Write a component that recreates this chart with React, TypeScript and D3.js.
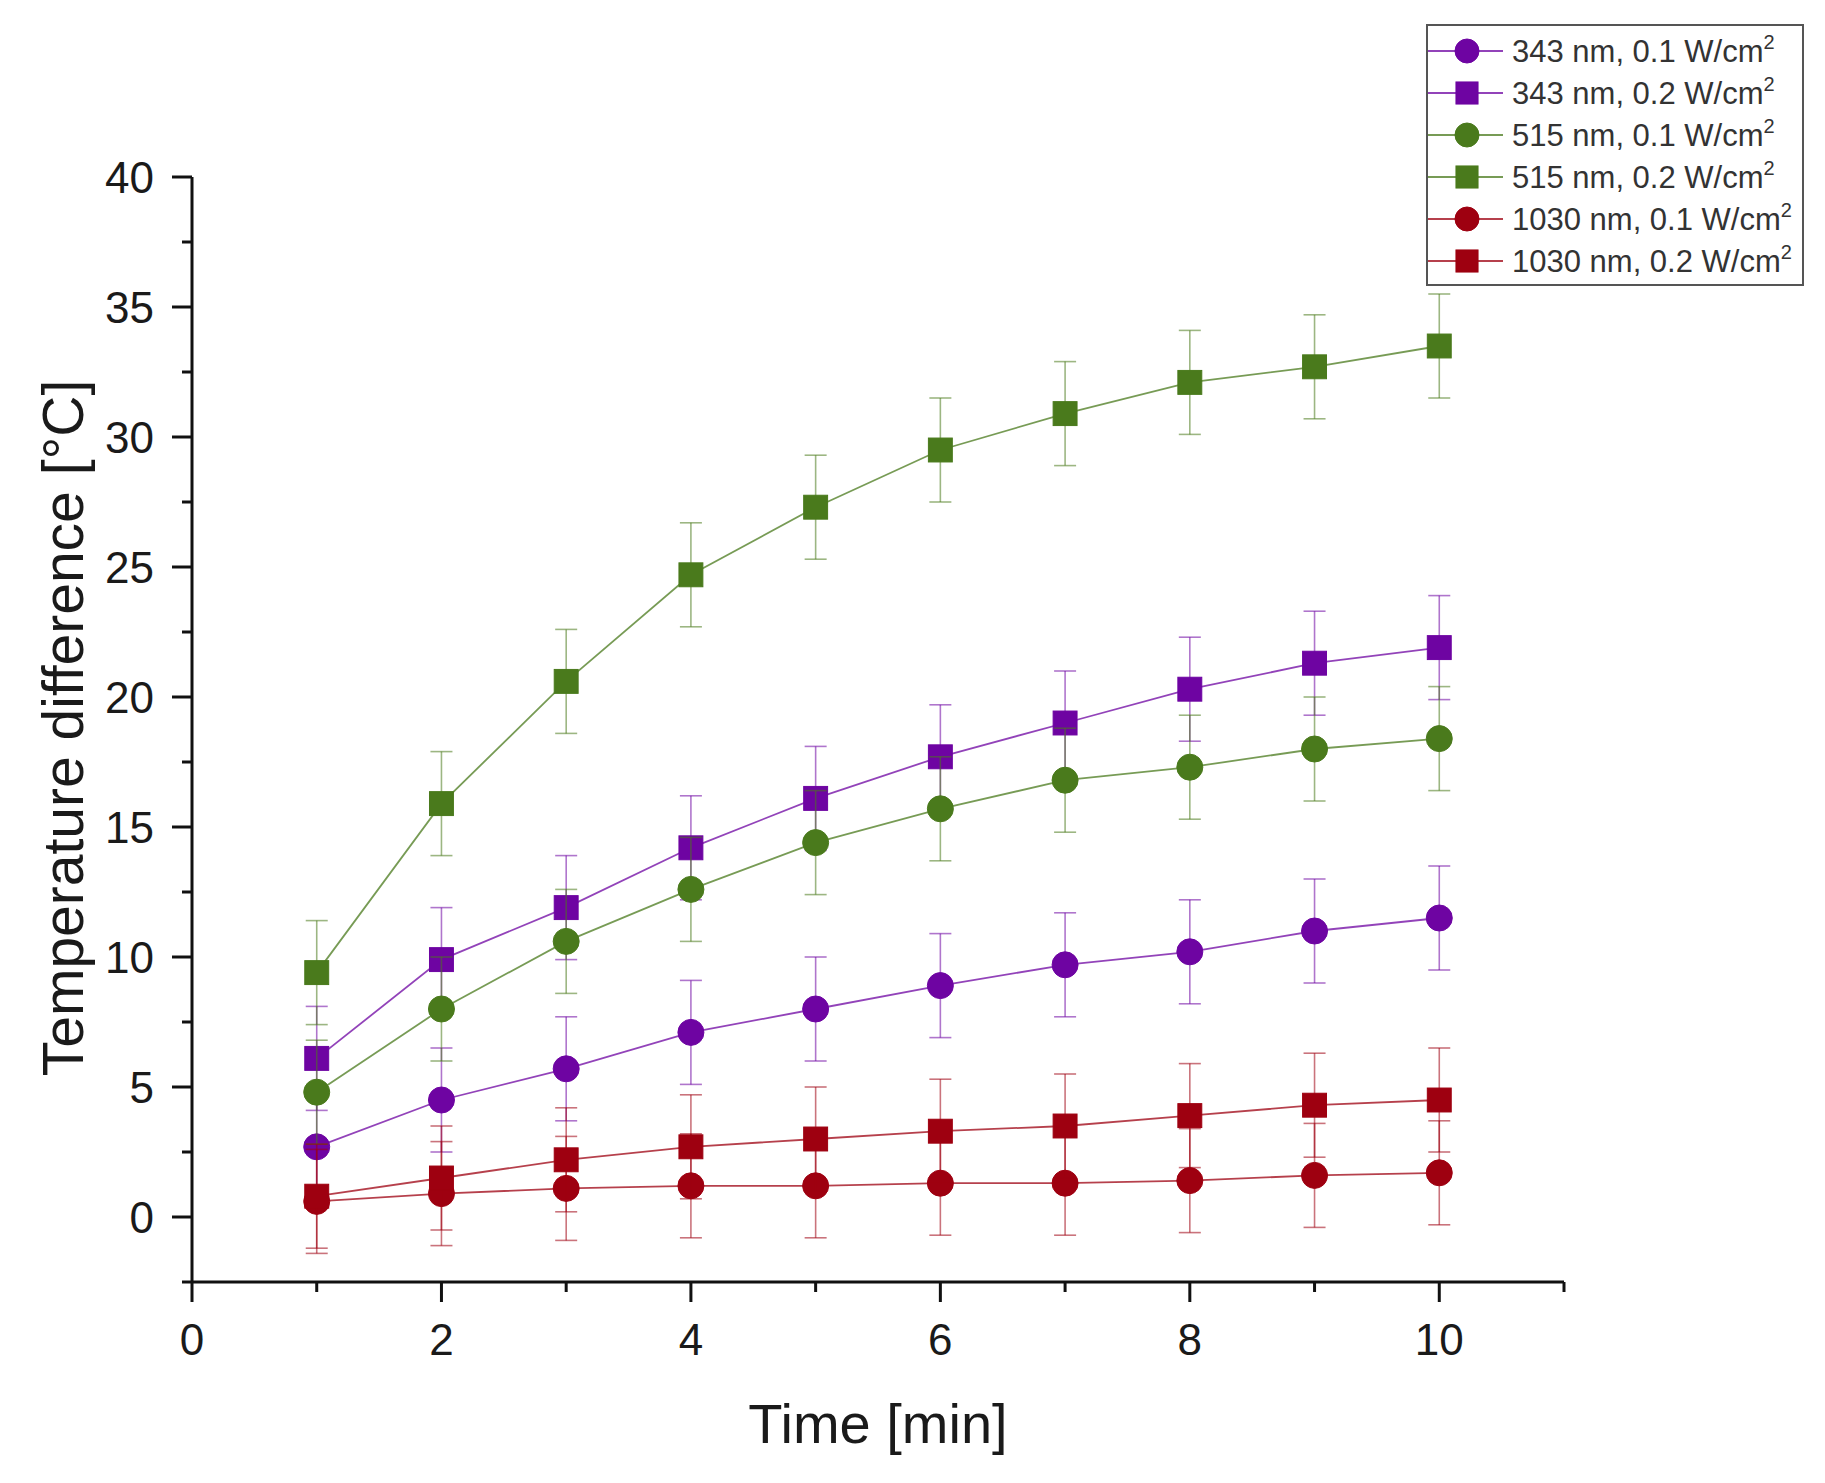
import React from "react";
import * as d3 from "d3";

const times = [1, 2, 3, 4, 5, 6, 7, 8, 9, 10];
const s343_01 = [2.7, 4.5, 5.7, 7.1, 8.0, 8.9, 9.7, 10.2, 11.0, 11.5];
const s343_02 = [6.1, 9.9, 11.9, 14.2, 16.1, 17.7, 19.0, 20.3, 21.3, 21.9];
const s515_01 = [4.8, 8.0, 10.6, 12.6, 14.4, 15.7, 16.8, 17.3, 18.0, 18.4];
const s515_02 = [9.4, 15.9, 20.6, 24.7, 27.3, 29.5, 30.9, 32.1, 32.7, 33.5];
const s1030_01 = [0.6, 0.9, 1.1, 1.2, 1.2, 1.3, 1.3, 1.4, 1.6, 1.7];
const s1030_02 = [0.8, 1.5, 2.2, 2.7, 3.0, 3.3, 3.5, 3.9, 4.3, 4.5];
const errors = [2, 2, 2, 2, 2, 2];
const seriesLabels = ["343 nm, 0.1 W/cm", "343 nm, 0.2 W/cm", "515 nm, 0.1 W/cm", "515 nm, 0.2 W/cm", "1030 nm, 0.1 W/cm", "1030 nm, 0.2 W/cm"];
const seriesShapes = ["circle", "square", "circle", "square", "circle", "square"];
const seriesColors = ["#6e04a2", "#6e04a2", "#4a7a1c", "#4a7a1c", "#9e0010", "#9e0010"];
const xTicks = [0, 2, 4, 6, 8, 10];
const yTicks = [0, 5, 10, 15, 20, 25, 30, 35, 40];

const seriesValues = [s343_01, s343_02, s515_01, s515_02, s1030_01, s1030_02];

const FONT = "Arial, 'Liberation Sans', Helvetica, sans-serif";

function Marker({ shape, x, y, color, r = 13 }: { shape: string; x: number; y: number; color: string; r?: number }) {
  if (shape === "circle") return <circle cx={x} cy={y} r={r} fill={color} stroke={color} strokeWidth={1} />;
  const s = r * 0.92;
  return <rect x={x - s} y={y - s} width={2 * s} height={2 * s} fill={color} stroke={color} strokeWidth={1} />;
}

export default function App() {
  const W = 1825, H = 1483;
  const x = d3.scaleLinear().domain([0, 11]).range([192, 1564]);
  const y = d3.scaleLinear().domain([-2.5, 40]).range([1282, 177]);
  const line = d3.line<number>().x((_, i) => x(times[i])).y((v) => y(v));
  const xMinor = d3.range(1, 12, 2);
  const yMinor = d3.range(-2.5, 40, 5);
  const legendRows = seriesLabels.map((_, i) => 51 + i * 42);

  return (
    <div style={{ position: "absolute", left: 0, top: 0 }}>
      <svg width={W} height={H} style={{ display: "block", background: "#fff" }}>
        <rect width={W} height={H} fill="#fff" />
        {/* series */}
        {seriesValues.map((vals, si) => (
          <g key={si}>
            {vals.map((v, i) => (
              <g key={i} stroke={seriesColors[si]} strokeOpacity={0.55} strokeWidth={1.6}>
                <line x1={x(times[i])} x2={x(times[i])} y1={y(v - errors[si])} y2={y(v + errors[si])} />
                <line x1={x(times[i]) - 11} x2={x(times[i]) + 11} y1={y(v - errors[si])} y2={y(v - errors[si])} />
                <line x1={x(times[i]) - 11} x2={x(times[i]) + 11} y1={y(v + errors[si])} y2={y(v + errors[si])} />
              </g>
            ))}
            <path d={line(vals) || ""} fill="none" stroke={seriesColors[si]} strokeOpacity={0.75} strokeWidth={1.8} />
            {vals.map((v, i) => (
              <Marker key={i} shape={seriesShapes[si]} x={x(times[i])} y={y(v)} color={seriesColors[si]} />
            ))}
          </g>
        ))}
        {/* axes */}
        <g stroke="#111" strokeWidth={3} fill="none">
          <line x1={x(0)} x2={x(0)} y1={y(40)} y2={y(-2.5)} />
          <line x1={x(0)} x2={x(11)} y1={y(-2.5)} y2={y(-2.5)} />
          {yTicks.map((t) => (
            <line key={"ym" + t} x1={x(0) - 20} x2={x(0)} y1={y(t)} y2={y(t)} />
          ))}
          {yMinor.map((t) => (
            <line key={"yn" + t} x1={x(0) - 10} x2={x(0)} y1={y(t)} y2={y(t)} />
          ))}
          {xTicks.map((t) => (
            <line key={"xm" + t} x1={x(t)} x2={x(t)} y1={y(-2.5)} y2={y(-2.5) + 20} />
          ))}
          {xMinor.map((t) => (
            <line key={"xn" + t} x1={x(t)} x2={x(t)} y1={y(-2.5)} y2={y(-2.5) + 10} />
          ))}
        </g>
        <g fontFamily={FONT} fontSize={44} fill="#1a1a1a">
          {yTicks.map((t) => (
            <text key={"yl" + t} x={154} y={y(t) + 16} textAnchor="end">{t}</text>
          ))}
          {xTicks.map((t) => (
            <text key={"xl" + t} x={x(t)} y={1355} textAnchor="middle">{t}</text>
          ))}
        </g>
        <text x={878} y={1443} textAnchor="middle" fontFamily={FONT} fontSize={56} fill="#1a1a1a">Time [min]</text>
        <text transform={`translate(83,728) rotate(-90)`} textAnchor="middle" fontFamily={FONT} fontSize={57} fill="#1a1a1a">Temperature difference [°C]</text>
        {/* legend */}
        <rect x={1427} y={25} width={376} height={260} fill="#fff" stroke="#555" strokeWidth={2} />
        {seriesLabels.map((lab, i) => (
          <g key={"lg" + i}>
            <line x1={1428} x2={1503} y1={legendRows[i]} y2={legendRows[i]} stroke={seriesColors[i]} strokeOpacity={0.75} strokeWidth={1.8} />
            <Marker shape={seriesShapes[i]} x={1467} y={legendRows[i]} color={seriesColors[i]} r={12} />
            <text x={1512} y={legendRows[i] + 11} fontFamily={FONT} fontSize={31} fill="#333">
              {lab}
              <tspan fontSize={20} dy={-13}>2</tspan>
            </text>
          </g>
        ))}
      </svg>
    </div>
  );
}
